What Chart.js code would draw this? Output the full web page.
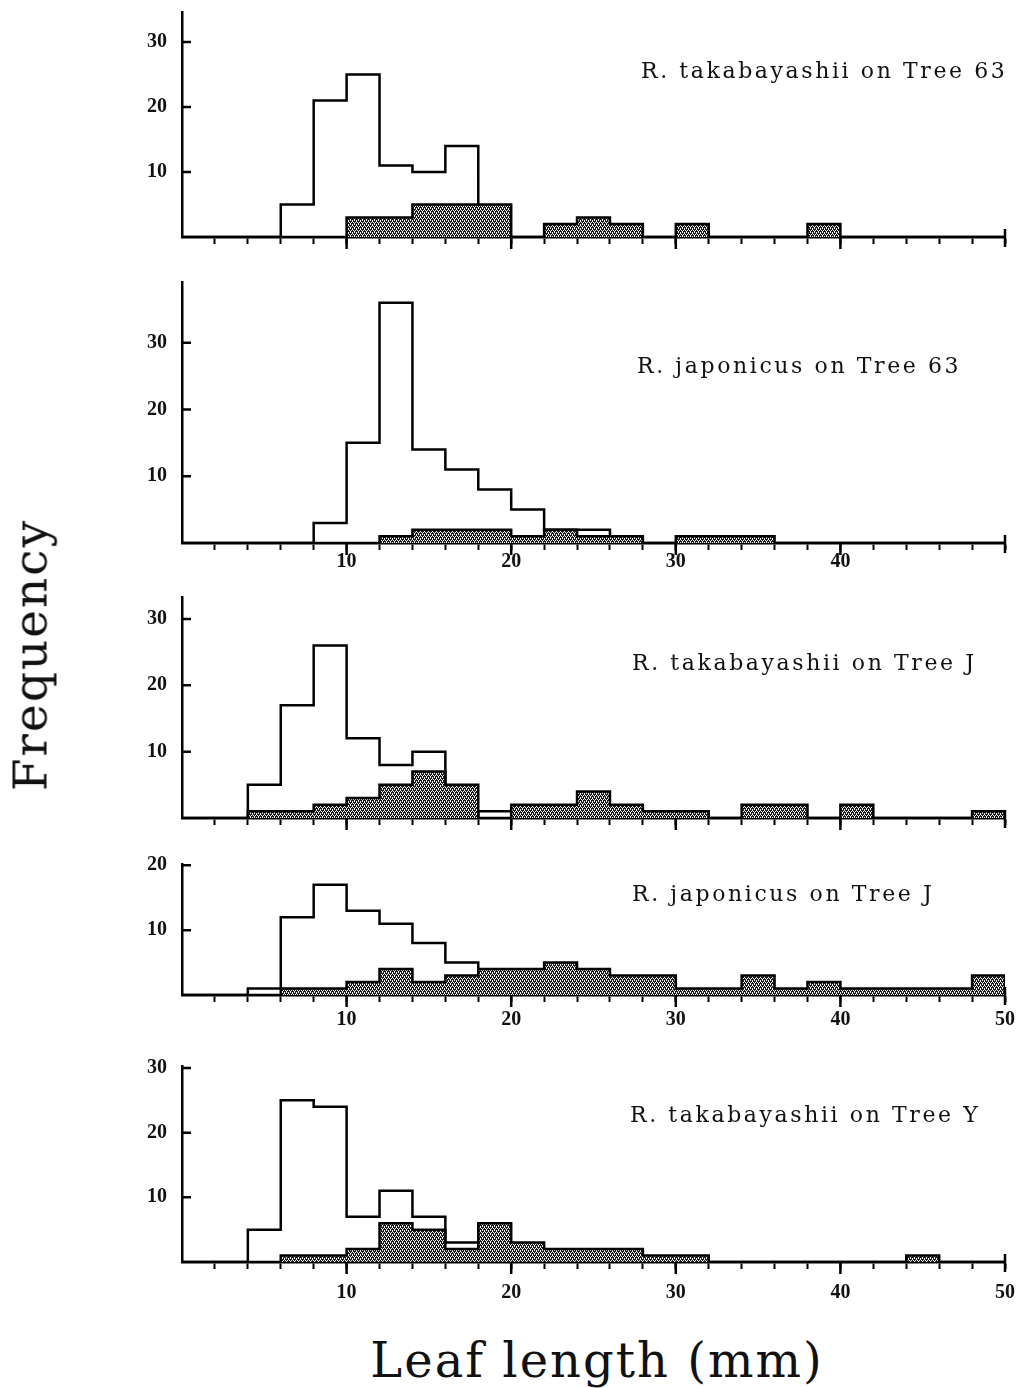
<!DOCTYPE html>
<html>
<head>
<meta charset="utf-8">
<script src="https://cdn.jsdelivr.net/npm/chart.js@4.4.0/dist/chart.umd.min.js"></script>
<style>
  body { margin: 0; background: #fff; }
  #page { position: relative; width: 1022px; height: 1388px; overflow: hidden; background: #fff; }
  canvas { position: absolute; left: 0; }
  .title { position: absolute; font-family: "DejaVu Serif", serif; font-size: 22px; line-height: 22px; letter-spacing: 2.6px; white-space: nowrap; color: #111; }
  .axis { position: absolute; font-family: "DejaVu Serif", serif; white-space: nowrap; color: #111; }
</style>
</head>
<body>
<div id="page">
  <canvas id="p1"></canvas>
  <canvas id="p2"></canvas>
  <canvas id="p3"></canvas>
  <canvas id="p4"></canvas>
  <canvas id="p5"></canvas>
  <div class="title" style="left:641px; top:60px;">R. takabayashii on Tree 63</div>
  <div class="title" style="left:637px; top:355px;">R. japonicus on Tree 63</div>
  <div class="title" style="left:632px; top:652px;">R. takabayashii on Tree J</div>
  <div class="title" style="left:632px; top:883px;">R. japonicus on Tree J</div>
  <div class="title" style="left:630px; top:1104px;">R. takabayashii on Tree Y</div>
  <div class="axis" style="left:30px; top:655px; font-size:47px; letter-spacing:2px; transform: translate(-50%, -50%) rotate(-90deg);">Frequency</div>
  <div class="axis" style="left:597px; top:1360px; font-size:48px; letter-spacing:2px; transform: translate(-50%, -50%);">Leaf length (mm)</div>
</div>
<script>
// 2 mm leaf length classes, 0-2 ... 48-50
const binStarts = [0, 2, 4, 6, 8, 10, 12, 14, 16, 18, 20, 22, 24, 26, 28, 30, 32, 34, 36, 38, 40, 42, 44, 46, 48];
const binEnd = 50;

// open = all leaves, shaded = leaves with mines
const tak63Open   = [0, 0, 0, 5, 21, 25, 11, 10, 14, 0, 0, 0, 0, 0, 0, 0, 0, 0, 0, 0, 0, 0, 0, 0, 0];
const tak63Shaded = [0, 0, 0, 0, 0, 3, 3, 5, 5, 5, 0, 2, 3, 2, 0, 2, 0, 0, 0, 2, 0, 0, 0, 0, 0];

const jap63Open   = [0, 0, 0, 0, 3, 15, 36, 14, 11, 8, 5, 2, 2, 0, 0, 0, 0, 0, 0, 0, 0, 0, 0, 0, 0];
const jap63Shaded = [0, 0, 0, 0, 0, 0, 1, 2, 2, 2, 1, 2, 1, 1, 0, 1, 1, 1, 0, 0, 0, 0, 0, 0, 0];

const takJOpen    = [0, 0, 5, 17, 26, 12, 8, 10, 0, 1, 0, 0, 0, 0, 0, 0, 0, 0, 0, 0, 0, 0, 0, 0, 0];
const takJShaded  = [0, 0, 1, 1, 2, 3, 5, 7, 5, 0, 2, 2, 4, 2, 1, 1, 0, 2, 2, 0, 2, 0, 0, 0, 1];

const japJOpen    = [0, 0, 1, 12, 17, 13, 11, 8, 5, 0, 0, 0, 0, 0, 0, 0, 0, 0, 0, 0, 0, 0, 0, 0, 0];
const japJShaded  = [0, 0, 0, 1, 1, 2, 4, 2, 3, 4, 4, 5, 4, 3, 3, 1, 1, 3, 1, 2, 1, 1, 1, 1, 3];

const takYOpen    = [0, 0, 5, 25, 24, 7, 11, 7, 3, 0, 0, 0, 0, 0, 0, 0, 0, 0, 0, 0, 0, 0, 0, 0, 0];
const takYShaded  = [0, 0, 0, 1, 1, 2, 6, 5, 2, 6, 3, 2, 2, 2, 1, 1, 0, 0, 0, 0, 0, 0, 1, 0, 0];

const yTickValues = [10, 20, 30];

// dotted grey fill like the printed screen tone
function makeTone() {
  const c = document.createElement("canvas");
  c.width = 4; c.height = 4;
  const g = c.getContext("2d");
  g.fillStyle = "#1a1a1a";
  g.fillRect(0, 0, 4, 4);
  g.fillStyle = "#f4f4f4";
  [[0, 0], [2, 0], [1, 2], [3, 2], [0, 1], [2, 3]].forEach(p => g.fillRect(p[0], p[1], 1, 1));
  return g.createPattern(c, "repeat");
}
const tone = makeTone();

function steps(counts) {
  const pts = binStarts.map((x, i) => ({ x: x, y: counts[i] }));
  pts.push({ x: binEnd, y: 0 });
  return pts;
}

// inward y ticks, longer x ticks at every 10 mm, small riser at the end
const axisMarks = {
  id: "axisMarks",
  afterDraw(chart) {
    const { ctx, chartArea } = chart;
    const xs = chart.scales.x, ys = chart.scales.y;
    ctx.save();
    ctx.strokeStyle = "#000";
    ctx.lineWidth = 2.5;
    ctx.beginPath();
    yTickValues.forEach(v => {
      if (v <= ys.max) {
        const py = ys.getPixelForValue(v);
        ctx.moveTo(chartArea.left, py);
        ctx.lineTo(chartArea.left + 9, py);
      }
    });
    [10, 20, 30, 40].forEach(v => {
      const px = xs.getPixelForValue(v);
      ctx.moveTo(px, chartArea.bottom);
      ctx.lineTo(px, chartArea.bottom + 12);
    });
    const pr = xs.getPixelForValue(binEnd);
    ctx.moveTo(pr, chartArea.bottom + 10);
    ctx.lineTo(pr, chartArea.bottom - 8);
    ctx.stroke();
    ctx.restore();
  }
};

function drawPanel(id, top, base, yMax, open, shaded, labelMax, labelPad) {
  const canvas = document.getElementById(id);
  const padTop = 8;
  const xAxisH = labelMax ? 44 : 20;
  canvas.width = 1022;
  canvas.height = (base - top) + padTop + xAxisH;
  canvas.style.top = (top - padTop) + "px";

  new Chart(canvas.getContext("2d"), {
    type: "line",
    data: {
      datasets: [
        {
          data: steps(shaded),
          stepped: "before",
          borderColor: "#000",
          borderWidth: 2.5,
          backgroundColor: tone,
          fill: "origin",
          pointRadius: 0,
        },
        {
          data: steps(open),
          stepped: "before",
          borderColor: "#000",
          borderWidth: 2.5,
          fill: false,
          pointRadius: 0,
        },
      ],
    },
    options: {
      responsive: false,
      animation: false,
      layout: { padding: { top: padTop, right: 17, left: 0, bottom: 0 } },
      plugins: { legend: { display: false }, tooltip: { enabled: false } },
      scales: {
        x: {
          type: "linear",
          min: 0,
          max: binEnd,
          afterFit: s => {
            s.height = xAxisH;
            s.paddingLeft = 0;
            s.paddingRight = 0;
          },
          border: { color: "#000", width: 2.5 },
          grid: {
            drawOnChartArea: false,
            tickLength: 7,
            tickWidth: 2,
            tickColor: c => (c.tick && c.tick.value === 0 ? "rgba(0,0,0,0)" : "#000"),
          },
          ticks: {
            stepSize: 2,
            autoSkip: false,
            maxRotation: 0,
            padding: labelPad,
            color: "#111",
            font: { family: "Liberation Serif", size: 20, weight: "bold" },
            callback: v => (labelMax && v > 0 && v % 10 === 0 && v <= labelMax ? String(v) : ""),
          },
        },
        y: {
          min: 0,
          max: yMax,
          afterBuildTicks: s => {
            s.ticks = [0].concat(yTickValues.filter(v => v <= yMax)).map(v => ({ value: v }));
          },
          afterFit: s => {
            s.width = 182;
            s.paddingTop = 0;
            s.paddingBottom = 0;
          },
          border: { color: "#000", width: 2.5 },
          grid: { display: false, drawTicks: false },
          ticks: {
            padding: 15,
            color: "#111",
            font: { family: "Liberation Serif", size: 20, weight: "bold" },
            callback: v => (yTickValues.includes(v) ? String(v) : ""),
          },
        },
      },
    },
    plugins: [axisMarks],
  });
}

drawPanel("p1", 12, 237, 34.6, tak63Open, tak63Shaded, 0, 0);
drawPanel("p2", 282, 543, 39.1, jap63Open, jap63Shaded, 40, 0);
drawPanel("p3", 597, 818, 33.3, takJOpen, takJShaded, 0, 0);
drawPanel("p4", 864, 995, 20.2, japJOpen, japJShaded, 50, 6);
drawPanel("p5", 1066, 1262, 30.3, takYOpen, takYShaded, 50, 12);
</script>
</body>
</html>
